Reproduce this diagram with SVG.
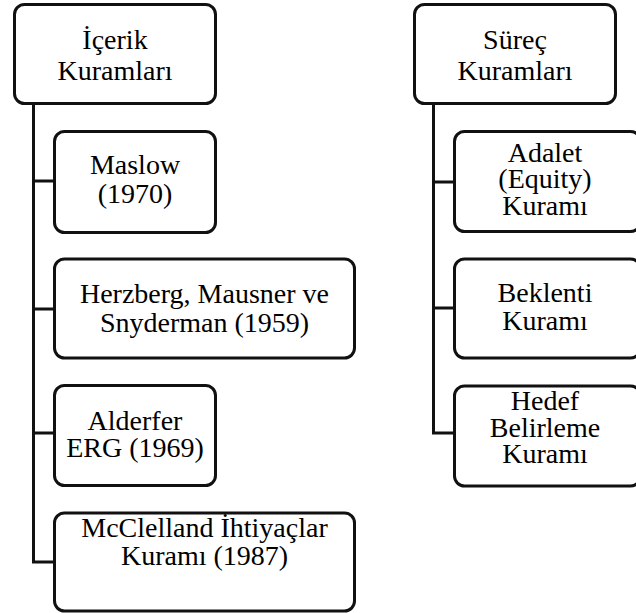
<svg xmlns="http://www.w3.org/2000/svg" width="636" height="613" viewBox="0 0 636 613">
  <style>
    .box { fill: #ffffff; stroke: #111111; stroke-width: 3; }
    .link { fill: none; stroke: #111111; stroke-width: 3; stroke-linecap: square; }
    .lbl { font-family: "Liberation Serif", "Noto Serif", "Tinos", "Nimbus Roman", "Nimbus Roman No9 L", "FreeSerif", "DejaVu Serif", "Times New Roman", Times, serif; font-size: 28px; fill: #000000; text-anchor: middle; }
  </style>
  <rect width="636" height="613" fill="#ffffff"/>

  <!-- tree connectors -->
  <g id="connectors">
    <path class="link" d="M33.5 105 V562 M33.5 181 H54 M33.5 309 H54 M33.5 433 H54 M33.5 562 H54"/>
    <path class="link" d="M433.5 105 V433 M433.5 182 H454 M433.5 308 H454 M433.5 433 H454"/>
  </g>

  <!-- content theories -->
  <g id="icerik">
    <rect class="box" x="14.5" y="4.5" width="201" height="99" rx="10"/>
    <text class="lbl" x="115" y="49">İçerik</text>
    <text class="lbl" x="115" y="80">Kuramları</text>
  </g>
  <g id="maslow">
    <rect class="box" x="54.5" y="131.5" width="161" height="101" rx="10"/>
    <text class="lbl" x="135" y="174">Maslow</text>
    <text class="lbl" x="135" y="203">(1970)</text>
  </g>
  <g id="herzberg">
    <rect class="box" x="54.5" y="259" width="300" height="99" rx="10"/>
    <text class="lbl" x="204.5" y="303">Herzberg, Mausner ve</text>
    <text class="lbl" x="204.5" y="332">Snyderman (1959)</text>
  </g>
  <g id="alderfer">
    <rect class="box" x="54.5" y="385.5" width="161" height="100" rx="10"/>
    <text class="lbl" x="135" y="430">Alderfer</text>
    <text class="lbl" x="135" y="457">ERG (1969)</text>
  </g>
  <g id="mcclelland">
    <rect class="box" x="54.5" y="513" width="300" height="98" rx="10"/>
    <text class="lbl" x="204.5" y="537">McClelland İhtiyaçlar</text>
    <text class="lbl" x="204.5" y="565">Kuramı (1987)</text>
  </g>

  <!-- process theories -->
  <g id="surec">
    <rect class="box" x="414.5" y="4.5" width="201" height="99" rx="10"/>
    <text class="lbl" x="515" y="49">Süreç</text>
    <text class="lbl" x="515" y="80">Kuramları</text>
  </g>
  <g id="adalet">
    <rect class="box" x="454.5" y="131.5" width="186" height="100" rx="10"/>
    <text class="lbl" x="545" y="162">Adalet</text>
    <text class="lbl" x="545" y="188">(Equity)</text>
    <text class="lbl" x="545" y="215">Kuramı</text>
  </g>
  <g id="beklenti">
    <rect class="box" x="454.5" y="259" width="186" height="99" rx="10"/>
    <text class="lbl" x="545" y="302">Beklenti</text>
    <text class="lbl" x="545" y="330">Kuramı</text>
  </g>
  <g id="hedef">
    <rect class="box" x="454.5" y="386" width="186" height="100" rx="10"/>
    <text class="lbl" x="545" y="410">Hedef</text>
    <text class="lbl" x="545" y="437">Belirleme</text>
    <text class="lbl" x="545" y="463">Kuramı</text>
  </g>
</svg>
